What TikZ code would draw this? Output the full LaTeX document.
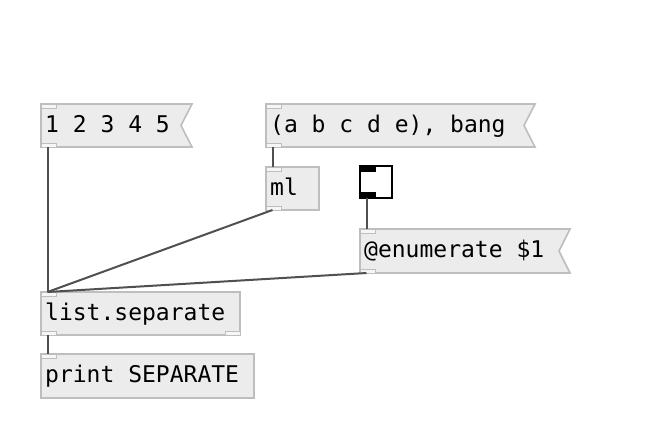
\documentclass[tikz,border=0pt]{standalone}
\usepackage{fontspec}
\newfontfamily\pdfont{DejaVu Sans Mono}
\definecolor{boxgray}{HTML}{BEBEBE}
\definecolor{boxfill}{HTML}{ECECEC}
\definecolor{inletfill}{HTML}{F6F6F6}
\definecolor{conncol}{HTML}{505050}
\begin{document}
\begin{tikzpicture}[x=1pt,y=-1pt,
  boxshape/.style={rectangle,inner sep=0pt,outer sep=0pt},
  objbox/.style={boxshape,draw=boxgray,fill=boxfill,line width=1.6pt},
  msgframe/.style={draw=boxgray,fill=boxfill,line width=1.6pt,line join=miter},
  iolet/.style={draw=boxgray,fill=inletfill,line width=1pt},
  tglbox/.style={boxshape,draw=black,fill=white,line width=2pt},
  tgllet/.style={fill=black},
  conn/.style={draw=conncol,line width=2pt},
  txt/.style={anchor=base west,inner sep=0pt,font=\pdfont\fontsize{23}{27}\selectfont}]
\useasboundingbox[fill=white] (0,0) rectangle (661,432);

% message boxes (flag shapes)
\node[boxshape,minimum width=151pt,minimum height=43pt] (m1) at (116.5,125.5) {};
\node[boxshape,minimum width=269pt,minimum height=43pt] (m2) at (400.5,125.5) {};
\node[boxshape,minimum width=210pt,minimum height=44pt] (m3) at (465,251) {};
\foreach \m in {m1,m2,m3}{
  \draw[msgframe] (\m.north west) -- (\m.north east) -- ([xshift=-11pt]\m.east) -- (\m.south east) -- (\m.south west) -- cycle;
}
% object boxes
\node[objbox,minimum width=53pt,minimum height=43pt] (ml) at (292.5,188.5) {};
\node[objbox,minimum width=199pt,minimum height=43pt] (ls) at (140.5,313.5) {};
\node[objbox,minimum width=213pt,minimum height=44pt] (pr) at (147.5,376) {};

% inlets / outlets
\foreach \m in {m1,m2,m3,ml,ls,pr}{
  \draw[iolet] (\m.north west) rectangle ([xshift=15pt,yshift=-4pt]\m.north west);
}
\foreach \m in {m1,m2,m3,ml,ls}{
  \draw[iolet] (\m.south west) rectangle ([xshift=15pt,yshift=4pt]\m.south west);
}
\draw[iolet] (ls.south east) rectangle ([xshift=-15pt,yshift=4pt]ls.south east);

% toggle
\node[tglbox,minimum width=32pt,minimum height=32pt] (tg) at (376,182) {};
\fill[tgllet] (tg.north west) rectangle ([xshift=16pt,yshift=-6pt]tg.north west);
\fill[tgllet] (tg.south west) rectangle ([xshift=16pt,yshift=6pt]tg.south west);

% texts
\node[txt] (t1) at ([xshift=4pt]m1.north west |- 0,132) {1 2 3 4 5};
\node[txt] (t2) at ([xshift=4pt]m2.north west |- 0,132) {(a b c d e), bang};
\node[txt] (t3) at ([xshift=4pt]ml.north west |- 0,195) {ml};
\node[txt] (t4) at ([xshift=4pt]m3.north west |- 0,257) {@enumerate \$1};
\node[txt] (t5) at ([xshift=4pt]ls.north west |- 0,320) {list.separate};
\node[txt] (t6) at ([xshift=4pt]pr.north west |- 0,382) {print SEPARATE};

% connection points
\foreach \m in {m1,m2,m3,ml,ls,tg}{
  \coordinate (\m-out) at ([xshift=6.5pt]\m.south west);
}
\foreach \m in {ml,ls,pr,m3}{
  \coordinate (\m-in) at ([xshift=6.5pt]\m.north west);
}

% connections
\draw[conn] (m1-out) -- (ls-in);
\draw[conn] (m2-out) -- (ml-in);
\draw[conn] (ml-out) -- (ls-in);
\draw[conn] (tg-out) -- (m3-in);
\draw[conn] (m3-out) -- (ls-in);
\draw[conn] (ls-out) -- (pr-in);
\end{tikzpicture}
\end{document}
